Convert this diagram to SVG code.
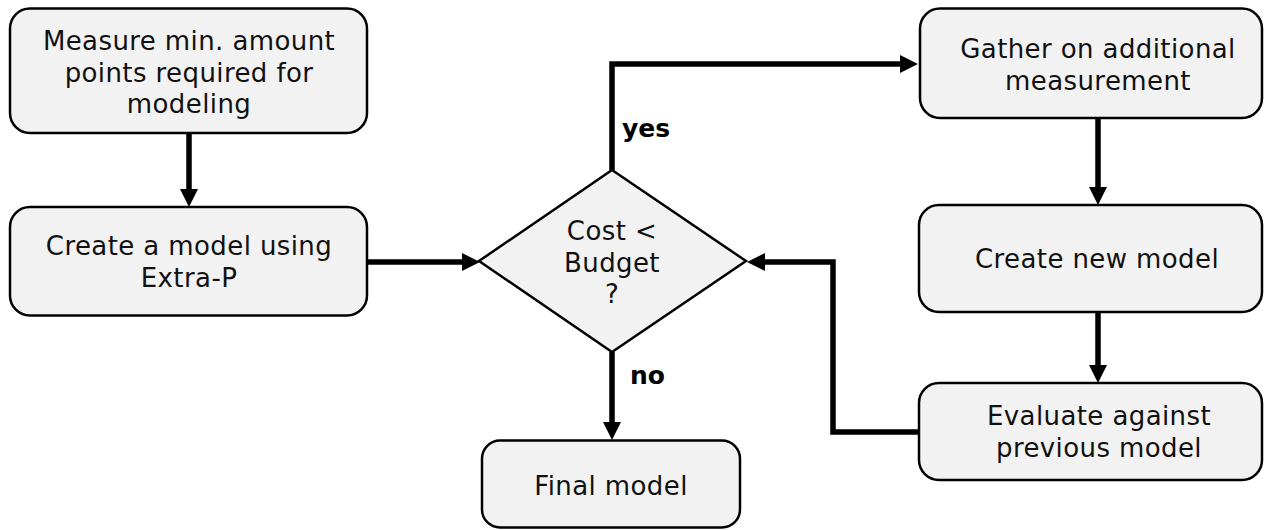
<svg xmlns="http://www.w3.org/2000/svg" width="1266" height="530" viewBox="0 0 1266 530">
  <style>
    .box { fill: #f2f2f2; stroke: #000; stroke-width: 2.5; }
    .lbl { font-family: "DejaVu Sans", Verdana, sans-serif; font-size: 26px; letter-spacing: 0.4px; fill: #111; text-anchor: middle; }
    .cond { font-family: "DejaVu Sans", Verdana, sans-serif; font-size: 25px; font-weight: bold; fill: #000; }
    .wire { fill: none; stroke: #000; stroke-width: 5.5; }
  </style>
  <defs>
    <marker id="arrow" markerUnits="userSpaceOnUse" markerWidth="18" markerHeight="18" refX="8" refY="9" orient="auto">
      <path d="M0,0 L18,9 L0,18 z" fill="#000"/>
    </marker>
  </defs>
  <rect width="1266" height="530" fill="#fff"/>

  <!-- connectors -->
  <g id="connectors">
    <path class="wire" d="M189,133 V197" marker-end="url(#arrow)"/>
    <path class="wire" d="M367,262 H470" marker-end="url(#arrow)"/>
    <path class="wire" d="M612,170 V64 H908" marker-end="url(#arrow)"/>
    <path class="wire" d="M1098,118 V195" marker-end="url(#arrow)"/>
    <path class="wire" d="M1098,312 V373" marker-end="url(#arrow)"/>
    <path class="wire" d="M920,432 H833 V262 H757" marker-end="url(#arrow)"/>
    <path class="wire" d="M612,352 V430" marker-end="url(#arrow)"/>
    <text class="cond" x="622" y="137">yes</text>
    <text class="cond" x="630" y="384">no</text>
  </g>

  <g id="measure">
    <rect class="box" x="10" y="8.5" width="357" height="124.5" rx="20"/>
    <text class="lbl" x="189" y="50">Measure min. amount</text>
    <text class="lbl" x="189" y="81.5">points required for</text>
    <text class="lbl" x="189" y="113">modeling</text>
  </g>

  <g id="create-model">
    <rect class="box" x="10" y="207" width="357" height="108.5" rx="20"/>
    <text class="lbl" x="189" y="255">Create a model using</text>
    <text class="lbl" x="189" y="287">Extra-P</text>
  </g>

  <g id="decision">
    <polygon class="box" points="612,170 746,261 612,352 479,261"/>
    <text class="lbl" x="612" y="240">Cost &lt;</text>
    <text class="lbl" x="612" y="271.5">Budget</text>
    <text class="lbl" x="612" y="303">?</text>
  </g>

  <g id="gather">
    <rect class="box" x="920" y="8.5" width="342" height="109.5" rx="20"/>
    <text class="lbl" x="1098" y="58">Gather on additional</text>
    <text class="lbl" x="1098" y="90">measurement</text>
  </g>

  <g id="create-new">
    <rect class="box" x="919" y="205" width="343" height="107" rx="20"/>
    <text class="lbl" x="1097" y="268">Create new model</text>
  </g>

  <g id="evaluate">
    <rect class="box" x="919" y="383" width="343" height="97" rx="20"/>
    <text class="lbl" x="1099" y="425">Evaluate against</text>
    <text class="lbl" x="1099" y="457">previous model</text>
  </g>

  <g id="final">
    <rect class="box" x="482" y="440.5" width="258" height="87" rx="18"/>
    <text class="lbl" x="611" y="495">Final model</text>
  </g>
</svg>
